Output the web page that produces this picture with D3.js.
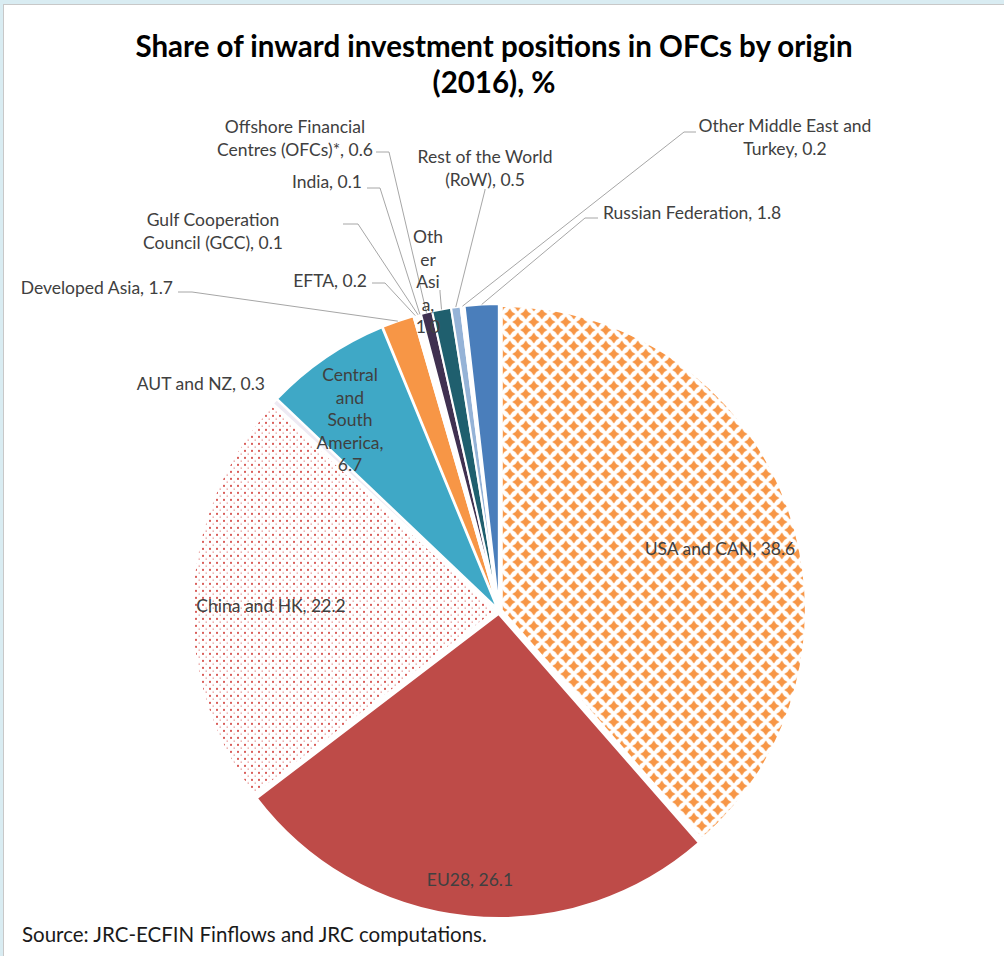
<!DOCTYPE html>
<html>
<head>
<meta charset="utf-8">
<script src="https://cdn.jsdelivr.net/npm/d3@7"></script>
<style>
  body { margin: 0; background: #d9ecf2; }
  svg { display: block; }
</style>
</head>
<body>
<div id="chart"></div>
<script>
// data, clockwise from 12 o'clock
const ORIGINS = [
  "USA and CAN", "EU28", "China and HK", "AUT and NZ",
  "Central and South America", "Developed Asia", "EFTA",
  "Gulf Cooperation Council (GCC)", "India",
  "Offshore Financial Centres (OFCs)*", "Other Asia",
  "Rest of the World (RoW)", "Other Middle East and Turkey",
  "Russian Federation"
];
const SHARES = [38.6, 26.1, 22.2, 0.3, 6.7, 1.7, 0.2, 0.1, 0.1, 0.6, 1.0, 0.5, 0.2, 1.8];

// how Excel wrapped each label ({v} = value)
const LABEL_LINES = [
  ["USA and CAN, {v}"],
  ["EU28, {v}"],
  ["China and HK, {v}"],
  ["AUT and NZ, {v}"],
  ["Central", "and", "South", "America,", "{v}"],
  ["Developed Asia, {v}"],
  ["EFTA, {v}"],
  ["Gulf Cooperation", "Council (GCC), {v}"],
  ["India, {v}"],
  ["Offshore Financial", "Centres (OFCs)*, {v}"],
  ["Oth", "er", "Asi", "a,", "{v}"],
  ["Rest of the World", "(RoW), {v}"],
  ["Other Middle East and", "Turkey, {v}"],
  ["Russian Federation, {v}"]
];

const TITLE = ["Share of inward investment positions in OFCs by origin", "(2016), %"];
const SOURCE = "Source: JRC-ECFIN Finflows and JRC computations.";

// styling / layout
const FILLS = [
  "url(#usa)", "#be4b48", "url(#china)", "#eeeaf3", "#3fa8c6", "#f79646",
  "#ffffff", "#ffffff", "#ffffff", "#403151", "#1f5f6e", "#95b3d7",
  "#ffffff", "#4a7ebb"
];
// label anchor point, text-anchor, leader elbow (null = no leader)
const LABEL_POS = [
  { x: 720, y: 555, anchor: "middle", elbow: null },
  { x: 470, y: 886, anchor: "middle", elbow: null },
  { x: 271, y: 612, anchor: "middle", elbow: null },
  { x: 265, y: 390, anchor: "end", elbow: null },
  { x: 350, y: 381, anchor: "middle", elbow: null },
  { x: 173, y: 294, anchor: "end", elbow: [[178, 292], [192, 292]] },
  { x: 367, y: 287, anchor: "end", elbow: [[372, 283], [385, 283]] },
  { x: 213, y: 226, anchor: "middle", elbow: [[343, 224], [358, 224]] },
  { x: 362, y: 188, anchor: "end", elbow: [[367, 188], [380, 188]] },
  { x: 295, y: 133, anchor: "middle", elbow: [[376, 152], [389, 152]] },
  { x: 428, y: 243, anchor: "middle", elbow: [[440, 290], [440, 292]] },
  { x: 485, y: 163, anchor: "middle", elbow: [[485, 189], [485, 190]] },
  { x: 785, y: 132, anchor: "middle", elbow: [[696, 132], [684, 132]] },
  { x: 603, y: 219, anchor: "start", elbow: [[598, 218], [585, 218]] }
];

const width = 1004;
const height = 956;
const cx = 499, cy = 611, radius = 304, explode = 3;
const lineH = 22.5;
const fmt = d3.format(".1f");

const svg = d3.select("#chart").append("svg")
  .attr("width", width)
  .attr("height", height)
  .style("font-family", "Lato, 'Open Sans', sans-serif");

// panel
svg.append("rect")
  .attr("x", 3.5).attr("y", 4.5)
  .attr("width", width + 10).attr("height", height + 10)
  .attr("fill", "#fff")
  .attr("stroke", "#c8c8c8");

// patterns
const defs = svg.append("defs");
const pUsa = defs.append("pattern")
  .attr("id", "usa").attr("patternUnits", "userSpaceOnUse")
  .attr("width", 16).attr("height", 16);
pUsa.append("rect").attr("width", 16).attr("height", 16).attr("fill", "#fff");
[[0, 0], [16, 0], [0, 16], [16, 16], [8, 8]].forEach(([px, py]) => {
  const s = 5.6, c = 1.7;
  pUsa.append("path")
    .attr("d", `M${px},${py - s} Q${px + c},${py - c} ${px + s},${py} Q${px + c},${py + c} ${px},${py + s} Q${px - c},${py + c} ${px - s},${py} Q${px - c},${py - c} ${px},${py - s}Z`)
    .attr("fill", "#f79646");
});
const pChina = defs.append("pattern")
  .attr("id", "china").attr("patternUnits", "userSpaceOnUse")
  .attr("width", 7).attr("height", 7);
pChina.append("rect").attr("width", 7).attr("height", 7).attr("fill", "#fff");
pChina.append("rect").attr("x", 0).attr("y", 0).attr("width", 2).attr("height", 2)
  .attr("fill", "#d9605c");
pChina.append("rect").attr("x", 3.5).attr("y", 3.5).attr("width", 1.5).attr("height", 1.5)
  .attr("fill", "#eba9a7");

// pie
const data = ORIGINS.map((name, i) => ({ name, value: SHARES[i], i }));
const pie = d3.pie().sort(null).value((d) => d.value);
const arcs = pie(data);
const arc = d3.arc().innerRadius(0).outerRadius(radius);

const g = svg.append("g").attr("transform", `translate(${cx},${cy})`);

g.selectAll("path.slice")
  .data(arcs)
  .join("path")
  .attr("class", "slice")
  .attr("transform", (d) => {
    const a = (d.startAngle + d.endAngle) / 2;
    return `translate(${explode * Math.sin(a)},${-explode * Math.cos(a)})`;
  })
  .attr("d", arc)
  .attr("fill", (d) => FILLS[d.data.i])
  .attr("stroke", "#fff")
  .attr("stroke-width", 2);

// leader lines
const leaders = arcs.filter((d) => LABEL_POS[d.data.i].elbow);
svg.append("g")
  .selectAll("polyline")
  .data(leaders)
  .join("polyline")
  .attr("fill", "none")
  .attr("stroke", "#a6a6a6")
  .attr("stroke-width", 1)
  .attr("points", (d) => {
    const a = (d.startAngle + d.endAngle) / 2;
    const rr = radius + explode;
    const end = [cx + rr * Math.sin(a), cy - rr * Math.cos(a)];
    return [...LABEL_POS[d.data.i].elbow, end].map((p) => p.join(",")).join(" ");
  });

// labels
const labels = svg.append("g")
  .selectAll("text")
  .data(arcs)
  .join("text")
  .attr("x", (d) => LABEL_POS[d.data.i].x)
  .attr("y", (d) => LABEL_POS[d.data.i].y)
  .attr("text-anchor", (d) => LABEL_POS[d.data.i].anchor)
  .attr("fill", "#404040")
  .style("font-size", "17.5px");

labels.each(function (d) {
  const t = d3.select(this);
  LABEL_LINES[d.data.i].forEach((line, k) => {
    t.append("tspan")
      .attr("x", LABEL_POS[d.data.i].x)
      .attr("dy", k === 0 ? 0 : lineH)
      .text(line.replace("{v}", fmt(d.data.value)));
  });
});

// title
svg.append("text")
  .attr("x", 494)
  .attr("y", 57)
  .attr("text-anchor", "middle")
  .style("font-size", "29.5px")
  .style("font-weight", "700")
  .attr("fill", "#000")
  .selectAll("tspan")
  .data(TITLE)
  .join("tspan")
  .attr("x", 494)
  .attr("dy", (d, i) => (i === 0 ? 0 : 36))
  .text((d) => d);

// source
svg.append("text")
  .attr("x", 22)
  .attr("y", 942)
  .style("font-size", "20.5px")
  .attr("fill", "#1a1a1a")
  .text(SOURCE);
</script>
</body>
</html>
